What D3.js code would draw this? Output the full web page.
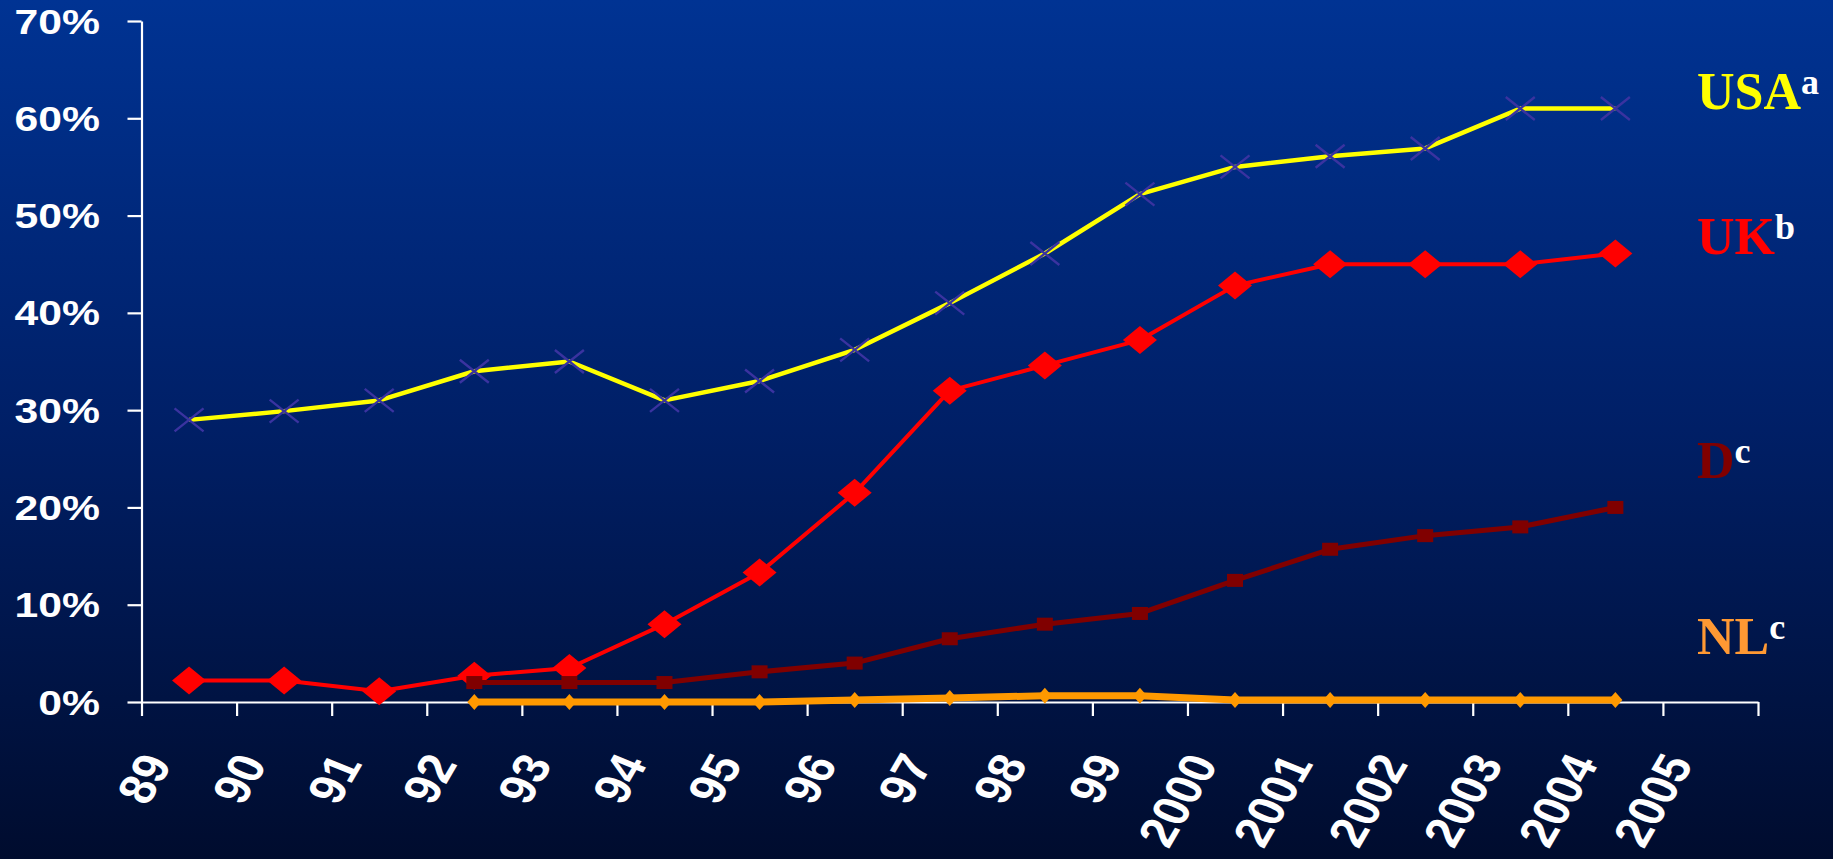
<!DOCTYPE html>
<html><head><meta charset="utf-8">
<script src="https://cdn.jsdelivr.net/npm/d3@7"></script>
<style>html,body{margin:0;padding:0;overflow:hidden;background:#001a5c}</style>
</head><body>
<svg id="c" width="1833" height="859"></svg>
<script>
const years = ["89","90","91","92","93","94","95","96","97","98","99","2000","2001","2002","2003","2004","2005"];
const yTicks = [0,0.1,0.2,0.3,0.4,0.5,0.6,0.7];
const usaYears = ["89","90","91","92","93","94","95","96","97","98","99","2000","2001","2002","2003","2004"];
const usaValues = [29.0,29.9,31.0,34.0,35.0,31.0,33.0,36.2,41.0,46.1,52.2,55.0,56.1,56.9,61.0,61.0];
const ukYears = ["89","90","91","92","93","94","95","96","97","98","99","2000","2001","2002","2003","2004"];
const ukValues = [2.2,2.2,1.1,2.7,3.5,8.0,13.3,21.5,32.0,34.6,37.2,42.8,45.0,45.0,45.0,46.1];
const dYears = ["92","93","94","95","96","97","98","99","2000","2001","2002","2003","2004"];
const dValues = [2.0,2.0,2.0,3.1,4.0,6.5,8.0,9.1,12.5,15.7,17.1,18.0,20.0];
const nlYears = ["92","93","94","95","96","97","98","99","2000","2001","2002","2003","2004"];
const nlValues = [0,0,0,0,0.2,0.4,0.65,0.65,0.2,0.2,0.2,0.2,0.2];
const seriesLabels = [
  {name:"USA", sup:"a", color:"#FFFF00", y:109},
  {name:"UK", sup:"b", color:"#FF0000", y:254},
  {name:"D", sup:"c", color:"#800000", y:478},
  {name:"NL", sup:"c", color:"#FF9933", y:654}
];

const svg = d3.select("#c");
const defs = svg.append("defs");
const g = defs.append("linearGradient").attr("id","bg").attr("x1",0).attr("y1",0).attr("x2",0).attr("y2",1);
g.append("stop").attr("offset","0%").attr("stop-color","#003393");
g.append("stop").attr("offset","50%").attr("stop-color","#001f66");
g.append("stop").attr("offset","100%").attr("stop-color","#000c2e");
svg.append("rect").attr("width",1833).attr("height",859).attr("fill","url(#bg)");

const x = d3.scaleBand().domain(years).range([141.5,1758]).padding(0);
const xEdge = d3.scaleLinear().domain([0,years.length]).range([141.5,1758]);
const y = d3.scaleLinear().domain([0,0.7]).range([702,21]);

// Y axis
const yAxis = svg.append("g").attr("transform","translate(141.5,0)")
  .call(d3.axisLeft(y).tickValues(yTicks).tickSize(14).tickSizeOuter(0).tickFormat(""));
yAxis.selectAll("path,line").attr("stroke","#fff").attr("stroke-width",2.2);
svg.append("g").selectAll("text").data(yTicks).join("text")
  .attr("transform",d=>`translate(100,${y(d)}) scale(1.22,1)`)
  .attr("text-anchor","end").attr("dy","0.36em")
  .attr("font-family","'Liberation Sans',Arial,sans-serif").attr("font-weight","bold")
  .attr("font-size",35).attr("fill","#fff")
  .text(d3.format(".0%"));

// X axis
const xAxis = svg.append("g").attr("transform","translate(0,702)")
  .call(d3.axisBottom(xEdge).tickValues(d3.range(years.length+1)).tickSize(14).tickSizeOuter(0).tickFormat(""));
xAxis.selectAll("path,line").attr("stroke","#fff").attr("stroke-width",2.2);
svg.append("g").selectAll("text").data(years).join("text")
  .attr("transform",d=>`translate(${x(d)+x.bandwidth()/2-33},757) scale(1.2,1) rotate(-64)`)
  .attr("text-anchor","end").attr("dy","0.36em")
  .attr("font-family","'Liberation Sans',Arial,sans-serif").attr("font-weight","bold")
  .attr("font-size",43).attr("fill","#fff")
  .text(d=>d);

const cx = d=>x(d)+x.bandwidth()/2;
function pts(ys,vs){return ys.map((k,i)=>({k,v:vs[i]/100}));}
const line = d3.line().x(d=>cx(d.k)).y(d=>y(d.v));

function diamond(w,h){return `M0,${-h}L${w},0L0,${h}L${-w},0Z`;}

// USA
const usa = pts(usaYears,usaValues);
svg.append("path").datum(usa).attr("d",line).attr("fill","none").attr("stroke","#FFFF00").attr("stroke-width",4.5).attr("stroke-linejoin","round");
svg.append("g").selectAll("path").data(usa).join("path")
  .attr("transform",d=>`translate(${cx(d.k)},${y(d.v)})`)
  .attr("d","M-14.5,-11.5L14.5,11.5M-14.5,11.5L14.5,-11.5")
  .attr("stroke","#3a33a0").attr("stroke-width",2.4).attr("fill","none");

// UK
const uk = pts(ukYears,ukValues);
svg.append("path").datum(uk).attr("d",line).attr("fill","none").attr("stroke","#FF0000").attr("stroke-width",4).attr("stroke-linejoin","round");
svg.append("g").selectAll("path").data(uk).join("path")
  .attr("transform",d=>`translate(${cx(d.k)},${y(d.v)})`)
  .attr("d",diamond(17,14)).attr("fill","#FF0000");

// D
const dd = pts(dYears,dValues);
svg.append("path").datum(dd).attr("d",line).attr("fill","none").attr("stroke","#800000").attr("stroke-width",5).attr("stroke-linejoin","round");
svg.append("g").selectAll("rect").data(dd).join("rect")
  .attr("x",d=>cx(d.k)-8).attr("y",d=>y(d.v)-6.5).attr("width",16).attr("height",13)
  .attr("fill","#800000");

// NL
const nl = pts(nlYears,nlValues);
svg.append("path").datum(nl).attr("d",line).attr("fill","none").attr("stroke","#FF9900").attr("stroke-width",7).attr("stroke-linejoin","round");
svg.append("g").selectAll("path").data(nl).join("path")
  .attr("transform",d=>`translate(${cx(d.k)},${y(d.v)})`)
  .attr("d",diamond(7,8)).attr("fill","#FF9900");

// Series labels
const lab = svg.append("g").selectAll("text").data(seriesLabels).join("text")
  .attr("x",1697).attr("y",d=>d.y)
  .attr("font-family","'Liberation Serif','Times New Roman',serif").attr("font-weight","bold")
  .attr("font-size",52);
lab.append("tspan").attr("fill",d=>d.color).text(d=>d.name);
lab.append("tspan").attr("fill","#fff").attr("font-size",36).attr("dy",-15).text(d=>d.sup);
</script>
</body></html>
